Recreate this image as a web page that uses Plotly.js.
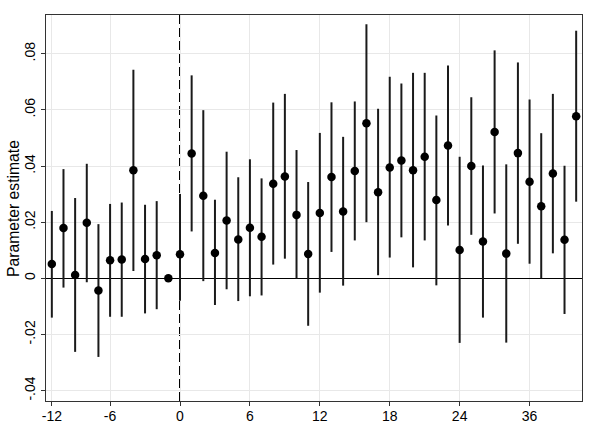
<!DOCTYPE html>
<html>
<head>
<meta charset="utf-8">
<script src="https://cdn.plot.ly/plotly-3.0.1.min.js"></script>
<style>
  body { margin: 0; background: #fff; }
  #chart { width: 598px; height: 446px; }
</style>
</head>
<body>
<div id="chart"></div>
<script>
// Event-time position of each estimate (axis is spaced by position, labels set below)
var position = [-11, -10, -9, -8, -7, -6, -5, -4, -3, -2, -1, 0,
  1, 2, 3, 4, 5, 6, 7, 8, 9, 10, 11, 12, 13, 14, 15, 16, 17, 18,
  19, 20, 21, 22, 23, 24, 25, 26, 27, 28, 29, 30, 31, 32, 33, 34];

// Point estimates
var estimate = [0.0051, 0.0179, 0.0012, 0.0198, -0.0043, 0.0064, 0.0067, 0.0385, 0.0069, 0.0082, 0, 0.0086,
  0.0445, 0.0294, 0.0090, 0.0206, 0.0138, 0.0180, 0.0148, 0.0337, 0.0363, 0.0226, 0.0087, 0.0233, 0.0361, 0.0238, 0.0382, 0.0552, 0.0307, 0.0395,
  0.0420, 0.0385, 0.0433, 0.0279, 0.0473, 0.0101, 0.0400, 0.0131, 0.0521, 0.0088, 0.0446, 0.0344, 0.0257, 0.0373, 0.0137, 0.0577];

// Confidence interval bounds
var ciHigh = [0.0240, 0.0389, 0.0286, 0.0408, 0.0193, 0.0265, 0.0270, 0.0743, 0.0262, 0.0275, 0, 0.0300,
  0.0723, 0.0599, 0.0280, 0.0451, 0.0360, 0.0424, 0.0356, 0.0626, 0.0657, 0.0457, 0.0343, 0.0518, 0.0627, 0.0504, 0.0630, 0.0905, 0.0604, 0.0718,
  0.0694, 0.0732, 0.0732, 0.0580, 0.0758, 0.0433, 0.0645, 0.0402, 0.0812, 0.0406, 0.0769, 0.0637, 0.0517, 0.0657, 0.0401, 0.0882];
var ciLow = [-0.0140, -0.0033, -0.0262, -0.0014, -0.0280, -0.0137, -0.0137, 0.0026, -0.0125, -0.0110, 0, -0.0080,
  0.0167, -0.0010, -0.0095, -0.0039, -0.0081, -0.0064, -0.0061, 0.0049, 0.0070, -0.0001, -0.0169, -0.0051, 0.0094, -0.0026, 0.0135, 0.0200, 0.0011, 0.0074,
  0.0146, 0.0039, 0.0135, -0.0025, 0.0188, -0.0230, 0.0155, -0.0140, 0.0231, -0.0229, 0.0123, 0.0052, 0.0000, 0.0089, -0.0127, 0.0273];

// Axis tick labels
var xTickPos = [-11, -6, 0, 6, 12, 18, 24, 30];
var xTickText = ["-12", "-6", "0", "6", "12", "18", "24", "36"];
var yTickVals = [-0.04, -0.02, 0, 0.02, 0.04, 0.06, 0.08];
var yTickText = ["-.04", "-.02", "0", ".02", ".04", ".06", ".08"];

var errPlus = estimate.map((v, i) => ciHigh[i] - v);
var errMinus = estimate.map((v, i) => v - ciLow[i]);

var trace = {
  x: position,
  y: estimate,
  type: "scatter",
  mode: "markers",
  marker: {color: "#000", size: 8.5},
  error_y: {
    type: "data",
    symmetric: false,
    array: errPlus,
    arrayminus: errMinus,
    width: 0,
    thickness: 2,
    color: "#1a1a1a"
  },
  hoverinfo: "none"
};

var layout = {
  width: 598,
  height: 446,
  margin: {l: 46, r: 16, t: 15, b: 45},
  paper_bgcolor: "#fff",
  plot_bgcolor: "#fff",
  showlegend: false,
  font: {family: "Liberation Sans, Arial, sans-serif", size: 13, color: "#000"},
  xaxis: {
    range: [-11.5, 34.5],
    tickvals: xTickPos,
    ticktext: xTickText,
    ticks: "outside",
    ticklen: 4,
    tickcolor: "#333",
    ticklabelstandoff: -2,
    showgrid: true,
    gridcolor: "#e8e8e8",
    zeroline: false,
    showline: true,
    linecolor: "#333",
    linewidth: 1,
    mirror: true,
    tickfont: {size: 14}
  },
  yaxis: {
    range: [-0.0437, 0.0938],
    tickvals: yTickVals,
    ticktext: yTickText,
    tickangle: -90,
    ticks: "outside",
    ticklen: 4,
    tickcolor: "#333",
    showgrid: true,
    gridcolor: "#e8e8e8",
    zeroline: true,
    zerolinecolor: "#000",
    zerolinewidth: 1,
    showline: true,
    linecolor: "#333",
    linewidth: 1,
    mirror: true,
    automargin: false,
    tickfont: {size: 14},
    title: {text: ""}
  },
  // y-axis title placed as a rotated annotation for exact position
  annotations: [{
    text: "Parameter estimate",
    xref: "paper", yref: "paper",
    x: -0.0616, y: 0.5,
    xanchor: "center", yanchor: "middle",
    textangle: -90,
    showarrow: false,
    font: {size: 15.7}
  }],
  shapes: [{
    type: "line",
    xref: "x", yref: "paper",
    x0: 0, x1: 0, y0: 0, y1: 1,
    line: {color: "#000", width: 2, dash: "9px,4px"},
    layer: "below"
  }]
};

Plotly.newPlot("chart", [trace], layout, {staticPlot: true});
</script>
</body>
</html>
